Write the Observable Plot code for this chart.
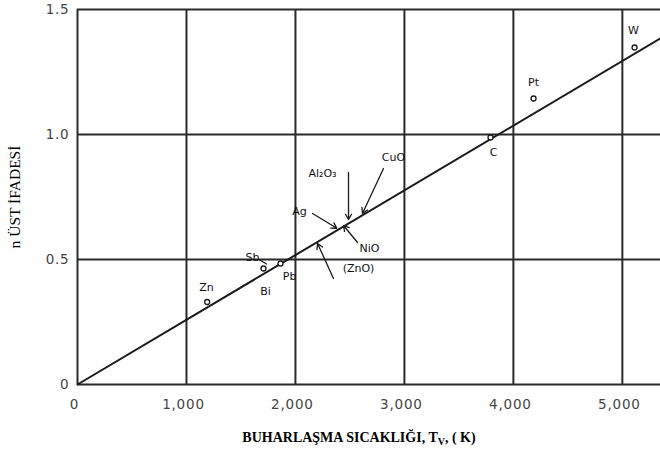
<!DOCTYPE html>
<html>
<head>
<meta charset="utf-8">
<script src="https://cdn.jsdelivr.net/npm/d3@7"></script>
<script src="https://cdn.jsdelivr.net/npm/@observablehq/plot@0.6"></script>
<style>
  body { margin: 0; background: #fff; }
  #chart svg { display: block; }
  #chart .ticklabel text { letter-spacing: 0.8px; }
</style>
</head>
<body>
<div id="chart"></div>
<script>
// Exponent n versus vaporization temperature T_V (K)
const xTicks = [0, 1000, 2000, 3000, 4000, 5000];
const xTickLabels = ["0", "1,000", "2,000", "3,000", "4,000", "5,000"];
const yTicks = [0, 0.5, 1.0, 1.5];
const yTickLabels = ["0", "0.5", "1.0", "1.5"];

// fitted straight line through the origin
const fitT = [0, 5350];
const fitN = [0, 1.385];

// measured materials (open circles)
const pointNames = ["Zn", "Sb/Bi", "Pb", "C", "Pt", "W"];
const pointT = [1190, 1707, 1863, 3790, 4185, 5112];
const pointN = [0.33, 0.464, 0.484, 0.988, 1.144, 1.348];

// material labels
const labelNames = ["Zn", "Sb", "Bi", "Pb", "Ag", "Al₂O₃", "CuO", "NiO", "(ZnO)", "C", "Pt", "W"];
const labelT = [1184, 1606, 1725, 1946, 2037, 2248, 2900, 2680, 2579, 3818, 4185, 5102];
const labelN = [0.388, 0.508, 0.372, 0.432, 0.692, 0.844, 0.908, 0.544, 0.464, 0.928, 1.208, 1.416];

// leader arrows from labels to the line
const arrowNames = ["Ag", "Al₂O₃", "CuO", "NiO", "(ZnO)"];
const arrowT1 = [2157, 2487, 2808, 2570, 2349];
const arrowN1 = [0.684, 0.848, 0.864, 0.568, 0.424];
const arrowT2 = [2380, 2487, 2615, 2441, 2203];
const arrowN2 = [0.625, 0.66, 0.684, 0.636, 0.564];

// short leader from the Sb label
const sbT = [1665, 1735];
const sbN = [0.5, 0.482];

const fitLine = fitT.map((t, i) => ({t, n: fitN[i]}));
const points = pointNames.map((name, i) => ({name, t: pointT[i], n: pointN[i]}));
const labels = labelNames.map((name, i) => ({name, t: labelT[i], n: labelN[i]}));
const arrows = arrowNames.map((name, i) => ({name, t1: arrowT1[i], n1: arrowN1[i], t2: arrowT2[i], n2: arrowN2[i]}));
const sbLeader = sbT.map((t, i) => ({t, n: sbN[i]}));

const gridColor = "#2a2a2a";
const serif = "'Liberation Serif', 'Times New Roman', serif";

const chart = Plot.plot({
  width: 660,
  height: 457,
  marginLeft: 77,
  marginRight: 0,
  marginTop: 9,
  marginBottom: 73,
  style: {background: "#fff", fontFamily: "'DejaVu Sans', sans-serif"},
  x: {domain: [0, 5350], axis: null},
  y: {domain: [0, 1.5], axis: null},
  marks: [
    // grid (including the frame lines at 0)
    Plot.ruleX(xTicks, {stroke: gridColor, strokeWidth: 2}),
    Plot.ruleY(yTicks, {stroke: gridColor, strokeWidth: 2}),
    // tick labels
    Plot.text(xTicks, {x: d => d, frameAnchor: "bottom", dy: 24, dx: -3,
      text: (d, i) => xTickLabels[i], fontSize: 13.5, fill: "#444", className: "ticklabel"}),
    Plot.text(yTicks, {y: d => d, frameAnchor: "left", dx: -8, textAnchor: "end",
      text: (d, i) => yTickLabels[i], fontSize: 13.5, fill: "#444", className: "ticklabel"}),
    // fitted line
    Plot.line(fitLine, {x: "t", y: "n", stroke: "#1a1a1a", strokeWidth: 2}),
    // material points
    Plot.dot(points, {x: "t", y: "n", r: 2.5, stroke: "#1a1a1a", strokeWidth: 1.3, fill: "#fff"}),
    // leaders
    Plot.arrow(arrows, {x1: "t1", y1: "n1", x2: "t2", y2: "n2",
      stroke: "#1a1a1a", strokeWidth: 1.3, headLength: 7}),
    Plot.line(sbLeader, {x: "t", y: "n", stroke: "#1a1a1a", strokeWidth: 1.3}),
    // labels
    Plot.text(labels, {x: "t", y: "n", text: "name", fontSize: 11, fill: "#111"}),
    // axis titles
    Plot.text(["BUHARLAŞMA SICAKLIĞI, T"], {frameAnchor: "bottom", dy: 57, dx: -10,
      fontFamily: serif, fontWeight: "bold", fontSize: 14, fill: "#000", className: "xtitle"}),
    Plot.text(["n ÜST İFADESİ"], {frameAnchor: "left", textAnchor: "middle", dx: -62, dy: 0,
      rotate: -90, fontFamily: serif, fontSize: 15.5, fill: "#000"})
  ]
});

// add the subscript V and the unit to the x-axis title
const title = d3.select(chart).select("g.xtitle text");
if (!title.empty()) {
  title.text(null);
  title.append("tspan").text("BUHARLAŞMA SICAKLIĞI, T");
  title.append("tspan").attr("font-size", 10).attr("dy", 3).text("V");
  title.append("tspan").attr("dy", -3).text(", ( K)");
}

document.getElementById("chart").append(chart);
</script>
</body>
</html>
